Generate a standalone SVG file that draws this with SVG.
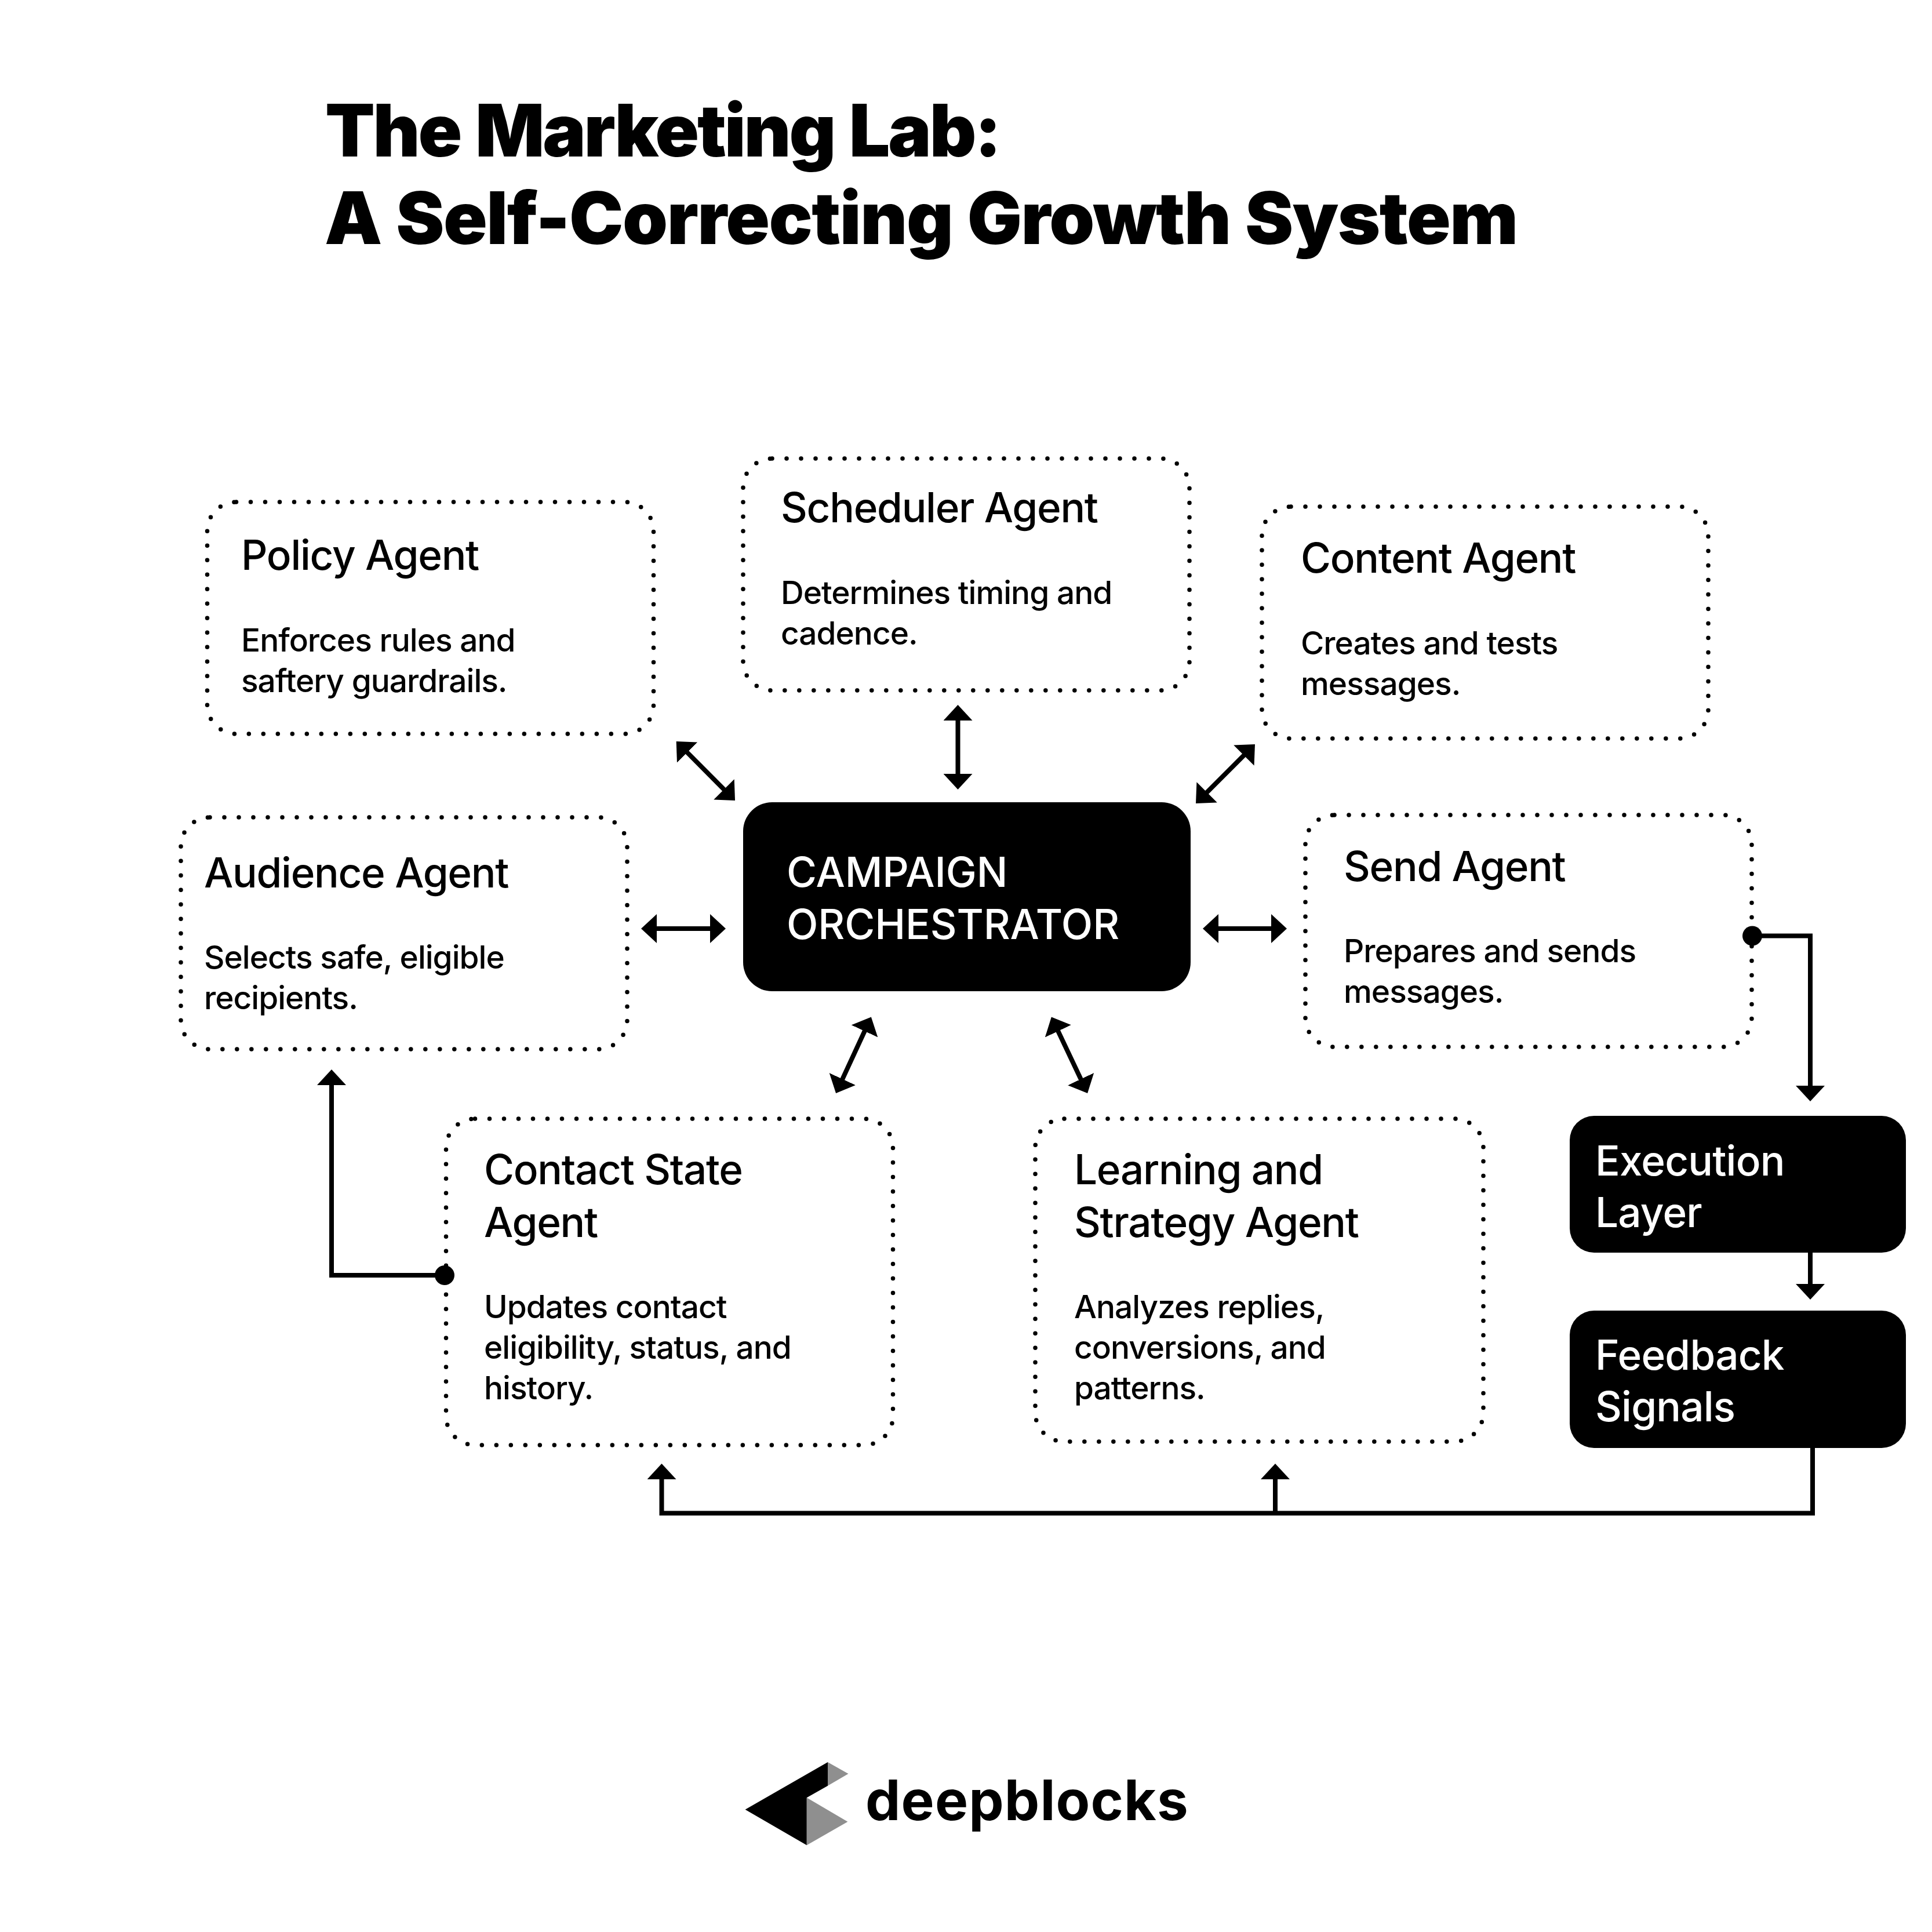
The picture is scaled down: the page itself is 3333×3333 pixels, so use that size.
<svg xmlns="http://www.w3.org/2000/svg" width="3333" height="3333" viewBox="0 0 3333 3333">
<style>
text{font-family:Inter,"Liberation Sans",sans-serif;fill:#000}
.title{font-size:125px;font-weight:900}
.h{font-size:71px;font-weight:550;letter-spacing:-1.3px}
.b{font-size:55px;font-weight:550;letter-spacing:-1px}
.w{fill:#fff;letter-spacing:-.8px}
.o{letter-spacing:-.1px}
.box{fill:none;stroke:#000;stroke-width:7.5;stroke-linecap:round;stroke-dasharray:0 25}
.solid{fill:#000}
.c{fill:none;stroke:#000;stroke-width:8;stroke-linejoin:miter}
.brand{font-size:96px;font-weight:700;letter-spacing:1.1px}
</style>
<defs>
<marker id="head" markerUnits="userSpaceOnUse" viewBox="0 0 28 50" markerWidth="28" markerHeight="50" refX="1" refY="25" orient="auto-start-reverse"><path d="M0 0L27 25L0 50z" fill="#000"/></marker>
</defs>
<rect width="3333" height="3333" fill="#fff"/>
<g id="title">
<text class="title" x="561" y="270" letter-spacing="-3.2" word-spacing="4">The Marketing Lab:</text>
<text class="title" x="560" y="421" letter-spacing="-1.5" word-spacing="2">A Self-Correcting Growth System</text>
</g>
<g id="connectors">
<path class="c" marker-start="url(#head)" marker-end="url(#head)" d="M1652.5 1242V1336"/>
<path class="c" marker-start="url(#head)" marker-end="url(#head)" d="M1185 1297.5L1249.7 1362.6"/>
<path class="c" marker-start="url(#head)" marker-end="url(#head)" d="M2146.6 1302.4L2081.4 1367.6"/>
<path class="c" marker-start="url(#head)" marker-end="url(#head)" d="M1132 1602H1226"/>
<path class="c" marker-start="url(#head)" marker-end="url(#head)" d="M2101 1602H2194"/>
<path class="c" marker-start="url(#head)" marker-end="url(#head)" d="M1492 1778L1453 1862.4"/>
<path class="c" marker-start="url(#head)" marker-end="url(#head)" d="M1825 1778L1865 1862.5"/>
<path class="c" marker-end="url(#head)" d="M3023 1614.5H3123V1874"/>
<circle cx="3023" cy="1614.5" r="17"/>
<path class="c" marker-end="url(#head)" d="M3123 2160V2216"/>
<path class="c" marker-end="url(#head)" d="M3127 2497V2610.5H1141.5V2551"/>
<path class="c" marker-end="url(#head)" d="M2200 2610.5V2551"/>
<path class="c" marker-end="url(#head)" d="M767 2200H572V1871"/>
<circle cx="767" cy="2200" r="17"/>
</g>
<g id="policy-agent">
<rect class="box" x="357.5" y="866" width="770" height="400" rx="50"/>
<text class="h" x="416" y="983">Policy Agent</text>
<text class="b" x="416" y="1124">Enforces rules and</text>
<text class="b" x="416" y="1194">saftery guardrails.</text>
</g>
<g id="scheduler-agent">
<rect class="box" x="1282" y="791" width="770" height="400" rx="50"/>
<text class="h" x="1347" y="901">Scheduler Agent</text>
<text class="b" x="1347" y="1042">Determines timing and</text>
<text class="b" x="1347" y="1112">cadence.</text>
</g>
<g id="content-agent">
<rect class="box" x="2177" y="874" width="770" height="400" rx="50"/>
<text class="h" x="2244" y="988">Content Agent</text>
<text class="b" x="2244" y="1129">Creates and tests</text>
<text class="b" x="2244" y="1199">messages.</text>
</g>
<g id="audience-agent">
<rect class="box" x="312" y="1410" width="770" height="400" rx="50"/>
<text class="h" x="352" y="1530.6">Audience Agent</text>
<text class="b" x="352" y="1671">Selects safe, eligible</text>
<text class="b" x="352" y="1741">recipients.</text>
</g>
<g id="send-agent">
<rect class="box" x="2252" y="1406" width="770" height="400" rx="50"/>
<text class="h" x="2318" y="1520">Send Agent</text>
<text class="b" x="2318" y="1660">Prepares and sends</text>
<text class="b" x="2318" y="1730">messages.</text>
</g>
<g id="contact-state-agent">
<rect class="box" x="769.5" y="1930" width="771" height="563" rx="50"/>
<text class="h" x="835" y="2043">Contact State</text>
<text class="h" x="835" y="2134">Agent</text>
<text class="b" x="835" y="2274">Updates contact</text>
<text class="b" x="835" y="2344">eligibility, status, and</text>
<text class="b" x="835" y="2414">history.</text>
</g>
<g id="learning-strategy-agent">
<rect class="box" x="1786" y="1930" width="773" height="557" rx="50"/>
<text class="h" x="1853" y="2043">Learning and</text>
<text class="h" x="1853" y="2134">Strategy Agent</text>
<text class="b" x="1853" y="2274">Analyzes replies,</text>
<text class="b" x="1853" y="2344">conversions, and</text>
<text class="b" x="1853" y="2414">patterns.</text>
</g>
<g id="campaign-orchestrator">
<rect class="solid" x="1282" y="1384" width="772" height="326" rx="50"/>
<text class="h w o" x="1357" y="1530">CAMPAIGN</text>
<text class="h w o" x="1357" y="1620">ORCHESTRATOR</text>
</g>
<g id="execution-layer">
<rect class="solid" x="2708" y="1925" width="580" height="236" rx="42"/>
<text class="h w" x="2752" y="2028">Execution</text>
<text class="h w" x="2752" y="2117">Layer</text>
</g>
<g id="feedback-signals">
<rect class="solid" x="2708" y="2261" width="580" height="237" rx="42"/>
<text class="h w" x="2752" y="2362.6">Feedback</text>
<text class="h w" x="2752" y="2452">Signals</text>
</g>
<g id="logo">
<path d="M1285.6 3121.7L1428 3040V3080.7L1391.8 3101.3V3183.3z" fill="#000"/>
<path d="M1428 3040L1463.5 3060L1428 3080.7z" fill="#8f8f8f"/>
<path d="M1391.8 3101.3L1462.4 3142.7L1391.8 3183.3z" fill="#8f8f8f"/>
<text class="brand" x="1493" y="3140">deepblocks</text>
</g>
</svg>
